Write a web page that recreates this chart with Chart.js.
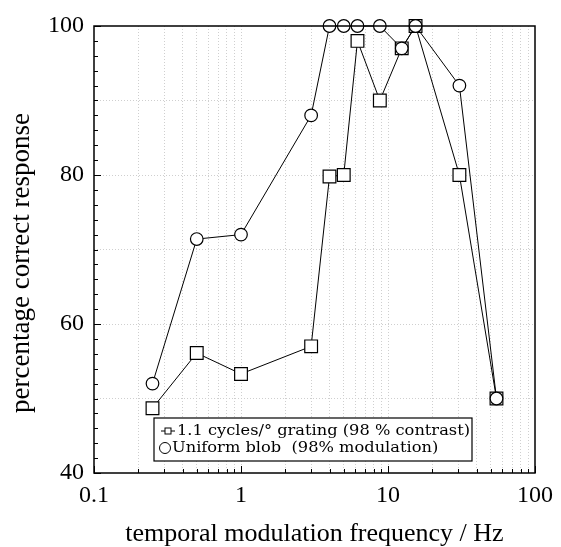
<!DOCTYPE html>
<html>
<head>
<meta charset="utf-8">
<script src="https://cdn.jsdelivr.net/npm/chart.js@4/dist/chart.umd.min.js"></script>
<style>
  html, body { margin: 0; padding: 0; background: #fff; }
</style>
</head>
<body>
<canvas id="chart" width="561" height="547"></canvas>
<script>
// Temporal modulation frequency (Hz)
const frequencies = [0.25, 0.5, 1, 3, 4, 5, 6.2, 8.8, 12.4, 15.4, 30.6, 54.7];
// Percentage correct response for each series
const gratingValues = [48.7, 56.1, 53.3, 57, 79.8, 80, 98, 90, 97, 100, 80, 50];
const blobValues = [52, 71.4, 72, 88, 100, 100, 100, 100, 97, 100, 92, 50];
const seriesLabels = ['1.1 cycles/\u00b0 grating (98 % contrast)', 'Uniform blob  (98% modulation)'];
// Axis tick labels
const xTickLabels = [0.1, 1, 10, 100];
const yTickLabels = [40, 60, 80, 100];

const serif = 'Liberation Serif';
const gridGrey = '#cfcfcf';

// minor log positions 0.1, 0.2 ... 90, 100
const xGridValues = [];
xTickLabels.slice(0, -1).forEach(d => {
  for (let k = 1; k < 10; k++) xGridValues.push(parseFloat((d * k).toPrecision(3)));
});
xGridValues.push(xTickLabels[xTickLabels.length - 1]);

// frame + inward ticks
const frame = {
  id: 'frame',
  afterDraw(chart) {
    const {ctx, chartArea: a, scales} = chart;
    ctx.save();
    ctx.strokeStyle = '#000';
    ctx.lineWidth = 1;
    ctx.beginPath();
    for (let v = yTickLabels[0]; v <= yTickLabels[yTickLabels.length - 1]; v += 2) {
      const y = Math.round(scales.y.getPixelForValue(v)) + 0.5;
      const len = v % 20 === 0 ? 7 : 4;
      ctx.moveTo(a.left, y);
      ctx.lineTo(a.left + len, y);
    }
    xGridValues.forEach(v => {
      const x = Math.round(scales.x.getPixelForValue(v)) + 0.5;
      const len = xTickLabels.includes(v) ? 7 : 4;
      ctx.moveTo(x, a.bottom);
      ctx.lineTo(x, a.bottom - len);
    });
    ctx.stroke();
    ctx.lineWidth = 1.5;
    ctx.strokeRect(a.left, a.top, a.right - a.left, a.bottom - a.top);
    ctx.restore();
  }
};

// boxed legend inside the plot, lower left
const legendBox = {
  id: 'legendBox',
  afterDraw(chart) {
    const {ctx, chartArea: a} = chart;
    const x = a.left + 60, y = a.bottom - 55, w = 318, h = 43;
    ctx.save();
    ctx.fillStyle = '#fff';
    ctx.fillRect(x, y, w, h);
    ctx.strokeStyle = '#000';
    ctx.lineWidth = 1.2;
    ctx.strokeRect(x, y, w, h);

    // the original lettering is wide: keep 15px height, squeeze to the measured width
    ctx.font = '15px "DejaVu Serif"';
    const fit = 293 / ctx.measureText(chart.data.datasets[0].label).width;
    ctx.fillStyle = '#000';
    ctx.textBaseline = 'middle';
    ctx.lineWidth = 1;

    // square sample with line
    let cy = y + 13;
    ctx.beginPath();
    ctx.moveTo(x + 7, cy); ctx.lineTo(x + 21, cy);
    ctx.stroke();
    ctx.fillStyle = '#fff';
    ctx.fillRect(x + 11, cy - 3, 6, 6);
    ctx.strokeRect(x + 11, cy - 3, 6, 6);
    ctx.fillStyle = '#000';
    ctx.save();
    ctx.translate(x + 23, cy);
    ctx.scale(fit, 1);
    ctx.fillText(chart.data.datasets[0].label, 0, 0);
    ctx.restore();

    // circle sample
    cy = y + 30;
    ctx.beginPath();
    ctx.arc(x + 11, cy, 5.5, 0, Math.PI * 2);
    ctx.stroke();
    ctx.save();
    ctx.translate(x + 18, cy);
    ctx.scale(fit, 1);
    ctx.fillText(chart.data.datasets[1].label, 0, 0);
    ctx.restore();
    ctx.restore();
  }
};

new Chart(document.getElementById('chart'), {
  type: 'line',
  data: {
    datasets: [
      {
        label: seriesLabels[0],
        data: frequencies.map((f, i) => ({x: f, y: gratingValues[i]})),
        borderColor: '#000',
        borderWidth: 1,
        pointStyle: 'rect',
        pointRadius: 9,
        pointBackgroundColor: '#fff',
        pointBorderColor: '#000',
        pointBorderWidth: 1.2,
        tension: 0,
        clip: false,
        order: 1
      },
      {
        label: seriesLabels[1],
        data: frequencies.map((f, i) => ({x: f, y: blobValues[i]})),
        borderColor: '#000',
        borderWidth: 1,
        pointStyle: 'circle',
        pointRadius: 6.3,
        pointBackgroundColor: '#fff',
        pointBorderColor: '#000',
        pointBorderWidth: 1.2,
        tension: 0,
        clip: false,
        order: 0
      }
    ]
  },
  options: {
    responsive: false,
    animation: false,
    layout: { padding: { top: 26, right: 21, left: 0, bottom: 0 } },
    plugins: { legend: { display: false }, tooltip: { enabled: false } },
    scales: {
      x: {
        type: 'logarithmic',
        min: xTickLabels[0],
        max: xTickLabels[xTickLabels.length - 1],
        afterBuildTicks: scale => {
          scale.ticks = xGridValues.map(v => ({value: v, major: xTickLabels.includes(v)}));
        },
        afterFit: scale => { scale.height = 74; },
        ticks: {
          autoSkip: false,
          maxRotation: 0,
          padding: 8,
          color: '#000',
          font: { family: serif, size: 24 },
          callback: v => xTickLabels.includes(v) ? String(v) : ''
        },
        grid: {
          color: ctx => (ctx.tick && (ctx.tick.value === 0.1 || ctx.tick.value === 100)) ? 'rgba(0,0,0,0)' : gridGrey,
          lineWidth: 1,
          drawTicks: false
        },
        border: { display: false, dash: [1, 2] },
        title: {
          display: true,
          text: 'temporal modulation frequency / Hz',
          color: '#000',
          font: { family: serif, size: 26, lineHeight: 1.0 },
          padding: { top: 0, bottom: 0 }
        }
      },
      y: {
        min: yTickLabels[0],
        max: yTickLabels[yTickLabels.length - 1],
        afterFit: scale => { scale.width = 94; },
        ticks: {
          stepSize: 10,
          padding: 10,
          color: '#000',
          font: { family: serif, size: 24 },
          callback: v => yTickLabels.includes(v) ? String(v) : ''
        },
        grid: {
          color: ctx => (ctx.tick && (ctx.tick.value === 40 || ctx.tick.value === 100)) ? 'rgba(0,0,0,0)' : gridGrey,
          lineWidth: 1,
          drawTicks: false
        },
        border: { display: false, dash: [1, 2] },
        title: {
          display: true,
          // trailing spaces push the visible text a little below the axis centre, as in the original
          text: 'percentage correct response    ',
          color: '#000',
          font: { family: serif, size: 27 },
          padding: { top: 6, bottom: 0 }
        }
      }
    }
  },
  plugins: [frame, legendBox]
});
</script>
</body>
</html>
